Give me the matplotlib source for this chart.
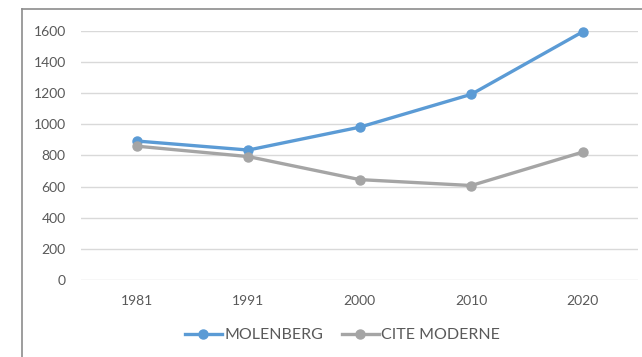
import matplotlib.pyplot as plt
from matplotlib.lines import Line2D

# population par quartier
years = ['1981', '1991', '2000', '2010', '2020']
molenberg = [893, 835, 982, 1193, 1595]
cite_moderne = [860, 793, 645, 607, 822]

plt.rcParams['font.family'] = ['Lato', 'DejaVu Sans']

fig = plt.figure(figsize=(6.42, 3.57), dpi=100)
ax = fig.add_axes([0.1262, 0.2157, 0.8683, 0.6975])

x = range(len(years))
ax.plot(x, molenberg, color='#5B9BD5', lw=2.4, marker='o', ms=6.5,
        label='MOLENBERG', clip_on=False, zorder=3)
ax.plot(x, cite_moderne, color='#A5A5A5', lw=2.4, marker='o', ms=6.5,
        label='CITE MODERNE', clip_on=False, zorder=3)

ax.set_xlim(-0.5, len(years) - 0.5)
ax.set_ylim(0, 1600)
ax.set_yticks(range(0, 1601, 200))
ax.set_xticks(list(x))
ax.set_xticklabels(years)
ax.grid(axis='y', color='#D9D9D9', lw=1)
ax.set_axisbelow(True)
for s in ax.spines.values():
    s.set_visible(False)
ax.tick_params(length=0, labelsize=10, colors='#595959')
ax.tick_params(axis='y', pad=11)
ax.tick_params(axis='x', pad=11)

# cadre du graphique (coupé à droite et en bas)
fig.add_artist(Line2D([0.0343, 0.0343], [0, 0.975], color='#8C8C8C', lw=1.2))
fig.add_artist(Line2D([0.0343, 1.0], [0.975, 0.975], color='#8C8C8C', lw=1.2))

fig.legend(loc='center', bbox_to_anchor=(0.5335, 0.0616), ncol=2, frameon=False,
           fontsize=11.5, labelcolor='#595959', handlelength=2.3, handletextpad=0.15,
           columnspacing=1.2)

fig.savefig('out.png', dpi=100)
